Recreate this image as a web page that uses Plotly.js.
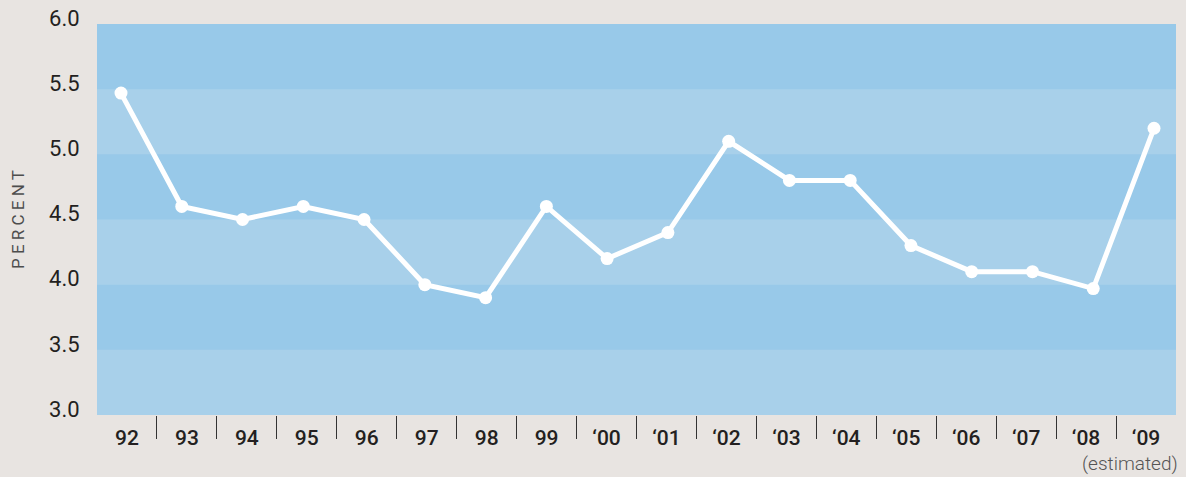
<!DOCTYPE html>
<html>
<head>
<meta charset="utf-8">
<script src="https://cdn.plot.ly/plotly-3.0.1.min.js"></script>
<style>html,body{margin:0;padding:0;background:#e8e4e1;}#chart{width:1186px;height:477px;}</style>
</head>
<body>
<div id="chart"></div>
<script>
var years = ["92","93","94","95","96","97","98","99","\u201800","\u201801","\u201802","\u201803","\u201804","\u201805","\u201806","\u201807","\u201808","\u201809"];
var percent = [5.47, 4.6, 4.5, 4.6, 4.5, 4.0, 3.9, 4.6, 4.2, 4.4, 5.1, 4.8, 4.8, 4.3, 4.1, 4.1, 3.97, 5.2];
var yTicks = [3.0, 3.5, 4.0, 4.5, 5.0, 5.5, 6.0];
var darkBands = [[3.5, 4.0], [4.5, 5.0], [5.5, 6.0]];

var idx = years.map(function(_, i){ return i; });
var bounds = idx.slice(0, -1).map(function(i){ return i + 0.5; });

var traces = [
  {
    x: idx, y: percent, type: 'scatter', mode: 'lines+markers',
    xaxis: 'x', yaxis: 'y',
    line: {color: '#ffffff', width: 5},
    marker: {color: '#ffffff', size: 13},
    hoverinfo: 'skip', showlegend: false
  },
  {
    x: idx, y: idx.map(function(){ return null; }), type: 'scatter', mode: 'markers',
    xaxis: 'x2', yaxis: 'y', hoverinfo: 'skip', showlegend: false
  }
];

var shapes = darkBands.map(function(b){
  return {type: 'rect', xref: 'paper', yref: 'y', x0: 0, x1: 1, y0: b[0], y1: b[1],
          fillcolor: '#98c9e9', line: {width: 0}, layer: 'below'};
});

var layout = {
  width: 1186, height: 477,
  margin: {l: 97, r: 10, t: 24, b: 62},
  paper_bgcolor: '#e8e4e1',
  plot_bgcolor: '#a8d0ea',
  font: {family: 'Roboto, sans-serif', color: '#231f20'},
  showlegend: false,
  shapes: shapes,
  xaxis: {
    range: [-0.395, 17.362], showgrid: false, zeroline: false,
    showticklabels: false, ticks: '', showline: false, fixedrange: true
  },
  xaxis2: {
    overlaying: 'x', range: [-0.5, 17.5], showgrid: false, zeroline: false, showline: false,
    tickmode: 'array', tickvals: idx, ticktext: years,
    ticks: 'outside', ticklen: 4, tickcolor: 'rgba(0,0,0,0)',
    tickfont: {size: 21, weight: 500, color: '#231f20'},
    minor: {tickmode: 'array', tickvals: bounds, ticks: 'outside', ticklen: 23, tickwidth: 1, tickcolor: '#333333', showgrid: false}
  },
  yaxis: {
    range: [3, 6], showgrid: false, zeroline: false, showline: false,
    tickmode: 'array', tickvals: yTicks, tickformat: '.1f',
    ticks: 'outside', ticklen: 12, tickcolor: 'rgba(0,0,0,0)',
    ticklabelshift: -6,
    tickfont: {size: 22, color: '#231f20'}, fixedrange: true
  },
  annotations: [
    {text: 'P E R C E N T', xref: 'paper', yref: 'paper',
     x: -0.0737, y: 0.5, xanchor: 'center', yanchor: 'middle', textangle: -90,
     showarrow: false, font: {size: 17, color: '#4d4d4d', family: 'Roboto, sans-serif'}},
    {text: '(estimated)', xref: 'paper', yref: 'paper',
     x: 1.0037, y: -0.123, xanchor: 'right', yanchor: 'middle',
     showarrow: false, font: {size: 19, color: '#555555', family: 'Roboto, sans-serif', weight: 300}}
  ]
};

Plotly.newPlot('chart', traces, layout, {displayModeBar: false, staticPlot: true});
</script>
</body>
</html>
